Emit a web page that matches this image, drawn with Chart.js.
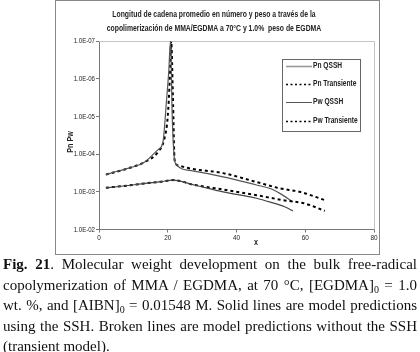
<!DOCTYPE html>
<html><head><meta charset="utf-8">
<script src="https://cdn.jsdelivr.net/npm/chart.js@4/dist/chart.umd.min.js"></script>
<style>
html,body{margin:0;padding:0;background:#fff;width:420px;height:352px;overflow:hidden;}
#wrap{position:relative;width:420px;height:352px;}
#c{position:absolute;left:0;top:0;}
#frame{position:absolute;left:55px;top:0;width:323px;height:253px;border:1px solid #888;box-sizing:content-box;pointer-events:none;}
#cap{position:absolute;left:3px;top:254px;width:414px;font-family:"Liberation Serif","Times New Roman",serif;font-size:15px;line-height:20.6px;color:#111;}
#cap div{text-align:justify;text-align-last:justify;white-space:nowrap;}
#cap div.last{text-align-last:left;}
sub{font-size:10px;vertical-align:-3px;line-height:0;}
</style></head>
<body><div id="wrap">
<canvas id="c" width="420" height="352"></canvas>
<div id="frame"></div>
<div id="cap">
<div><b>Fig. 21</b>. Molecular weight development on the bulk free-radical</div>
<div>copolymerization of MMA / EGDMA, at 70 °C, [EGDMA]<sub>0</sub> = 1.0</div>
<div>wt. %, and [AIBN]<sub>0</sub> = 0.01548 M. Solid lines are model predictions</div>
<div>using the SSH. Broken lines are model predictions without the SSH</div>
<div class="last">(transient model).</div>
</div>
</div>
<script>
const titleLines = ["Longitud de cadena promedio en número y peso a través de la",
                    "copolimerización de MMA/EGDMA a 70°C y 1.0%  peso de EGDMA"];
const seriesNames = ["Pn QSSH", "Pn Transiente", "Pw QSSH", "Pw Transiente"];
const xTicks = [0, 20, 40, 60, 80];
const yTicks = [1e-7, 1e-6, 1e-5, 1e-4, 1e-3, 1e-2];

const xPnQ = [2, 8, 13.3, 18, 21.5, 27.8, 36.1, 45.8, 50, 54, 56.4];
const pnQ  = [7.8e-4, 6.9e-4, 6.0e-4, 5.4e-4, 4.9e-4, 6.6e-4, 1.0e-3, 1.48e-3, 1.9e-3, 2.5e-3, 3.2e-3];

const xPnT = [2, 8, 13.3, 18, 21.5, 27.8, 36.1, 45.8, 53.5, 59.8, 65.7];
const pnT  = [7.8e-4, 6.9e-4, 6.0e-4, 5.4e-4, 4.9e-4, 6.6e-4, 8.7e-4, 1.23e-3, 1.66e-3, 2.04e-3, 3.2e-3];

const xPwQ = [2, 5, 8.4, 13.3, 17.2, 18.6, 19.6, 20.3, 20.8, 21.3, 21.8, 22.3, 26.4, 36.1, 45.8, 50, 52.6, 56.4];
const pwQ  = [3.5e-4, 2.9e-4, 2.4e-4, 1.62e-4, 7.6e-5, 4.8e-5, 4.2e-6, 6.3e-7, 1.0e-7, 1.0e-5, 1.0e-4, 1.78e-4, 2.7e-4, 4.0e-4, 6.6e-4, 8.3e-4, 1.1e-3, 1.84e-3];

const xPwT = [2, 5, 8.4, 13.3, 17.2, 19, 20, 20.6, 21.0, 21.5, 22.0, 23, 26.4, 36.1, 45.8, 52.6, 58.4, 65.7];
const pwT  = [3.5e-4, 2.95e-4, 2.4e-4, 1.62e-4, 8.7e-5, 4e-5, 1e-5, 1e-6, 1e-7, 3e-6, 1.45e-4, 2.0e-4, 2.4e-4, 3.2e-4, 5.5e-4, 8.1e-4, 1.0e-3, 1.66e-3];

const pts = (xs, ys) => xs.map((x, i) => ({x: x, y: ys[i]}));
const FONT = '"Liberation Sans",Arial,sans-serif';

const datasets = [
  {label: seriesNames[0], data: pts(xPnQ, pnQ), borderColor: '#444', borderWidth: 1.2, borderDash: []},
  {label: seriesNames[1], data: pts(xPnT, pnT), borderColor: '#000', borderWidth: 2, borderDash: [3, 3]},
  {label: seriesNames[2], data: pts(xPwQ, pwQ), borderColor: '#555', borderWidth: 1.2, borderDash: []},
  {label: seriesNames[3], data: pts(xPwT, pwT), borderColor: '#000', borderWidth: 2, borderDash: [3, 3]}
].map(d => Object.assign(d, {pointRadius: 0, fill: false, cubicInterpolationMode: 'monotone'}));

const legendColors = ['#999', '#000', '#555', '#000'];

function narrowText(ctx, text, x, y, sx, align) {
  ctx.save();
  ctx.translate(x, y);
  ctx.scale(sx, 1);
  ctx.textAlign = align;
  ctx.fillText(text, 0, 0);
  ctx.restore();
}

const decor = {
  id: 'decor',
  beforeDatasetsDraw(chart) {
    const ctx = chart.ctx, a = chart.chartArea;
    ctx.save();
    ctx.strokeStyle = '#c4c4c4'; ctx.lineWidth = 1;
    ctx.beginPath();
    ctx.moveTo(a.left, a.top + 0.5); ctx.lineTo(a.right + 0.5, a.top + 0.5);
    ctx.lineTo(a.right + 0.5, a.bottom);
    ctx.stroke();
    ctx.restore();
  },
  afterDraw(chart) {
    const ctx = chart.ctx;
    const xs = chart.scales.x, ys = chart.scales.y;
    ctx.save();
    ctx.fillStyle = '#222';
    ctx.textBaseline = 'middle';
    // title
    ctx.font = 'bold 9.5px ' + FONT;
    narrowText(ctx, titleLines[0], 214, 14, 0.72, 'center');
    narrowText(ctx, titleLines[1], 214, 28, 0.72, 'center');
    // tick labels
    ctx.font = '8px ' + FONT;
    yTicks.forEach(v => {
      narrowText(ctx, '1.0E-0' + Math.round(-Math.log10(v)), 95, ys.getPixelForValue(v), 0.76, 'right');
    });
    xTicks.forEach(v => {
      narrowText(ctx, String(v), xs.getPixelForValue(v), 238, 0.8, 'center');
    });
    // axis titles
    ctx.font = 'bold 9px ' + FONT;
    narrowText(ctx, 'x', 256, 243, 0.8, 'center');
    ctx.save();
    ctx.translate(71, 142); ctx.rotate(-Math.PI / 2);
    narrowText(ctx, 'Pn Pw', 0, 0, 0.8, 'center');
    ctx.restore();
    ctx.restore();
    // legend
    ctx.save();
    ctx.fillStyle = '#fff';
    ctx.fillRect(282, 59, 78, 72);
    ctx.strokeStyle = '#666'; ctx.lineWidth = 1;
    ctx.strokeRect(282.5, 59.5, 78, 72);
    ctx.font = 'bold 8.5px ' + FONT;
    ctx.textBaseline = 'middle';
    const ly = [66, 84, 102, 121];
    chart.data.datasets.forEach((d, i) => {
      ctx.strokeStyle = legendColors[i];
      ctx.lineWidth = d.borderDash.length ? 1.6 : (i === 0 ? 1.6 : 1);
      ctx.setLineDash(d.borderDash.length ? [2, 2.5] : []);
      ctx.beginPath();
      ctx.moveTo(286, ly[i] + 0.5); ctx.lineTo(312, ly[i] + 0.5);
      ctx.stroke();
      ctx.setLineDash([]);
      ctx.fillStyle = '#222';
      narrowText(ctx, d.label, 313, ly[i], 0.78, 'left');
    });
    ctx.restore();
  }
};

new Chart(document.getElementById('c'), {
  type: 'line',
  data: {datasets: datasets},
  options: {
    responsive: false, animation: false,
    layout: {padding: {top: 41, right: 46, bottom: 0, left: 0}},
    plugins: {legend: {display: false}, title: {display: false}, tooltip: {enabled: false}},
    scales: {
      x: {
        type: 'linear', min: 0, max: 80,
        afterBuildTicks: s => { s.ticks = xTicks.map(v => ({value: v})); },
        afterFit: s => { s.height = 352 - 229.5; },
        grid: {display: true, drawOnChartArea: false, drawTicks: true, tickLength: 3, color: '#777'},
        border: {display: true, color: '#777', width: 1},
        ticks: {display: false}
      },
      y: {
        type: 'logarithmic', reverse: true, min: 1e-7, max: 1e-2,
        afterBuildTicks: s => { s.ticks = yTicks.map(v => ({value: v})); },
        afterFit: s => { s.width = 99; },
        grid: {display: true, drawOnChartArea: false, drawTicks: true, tickLength: 3, color: '#777'},
        border: {display: true, color: '#777', width: 1},
        ticks: {display: false}
      }
    }
  },
  plugins: [decor]
});
</script>
</body></html>
